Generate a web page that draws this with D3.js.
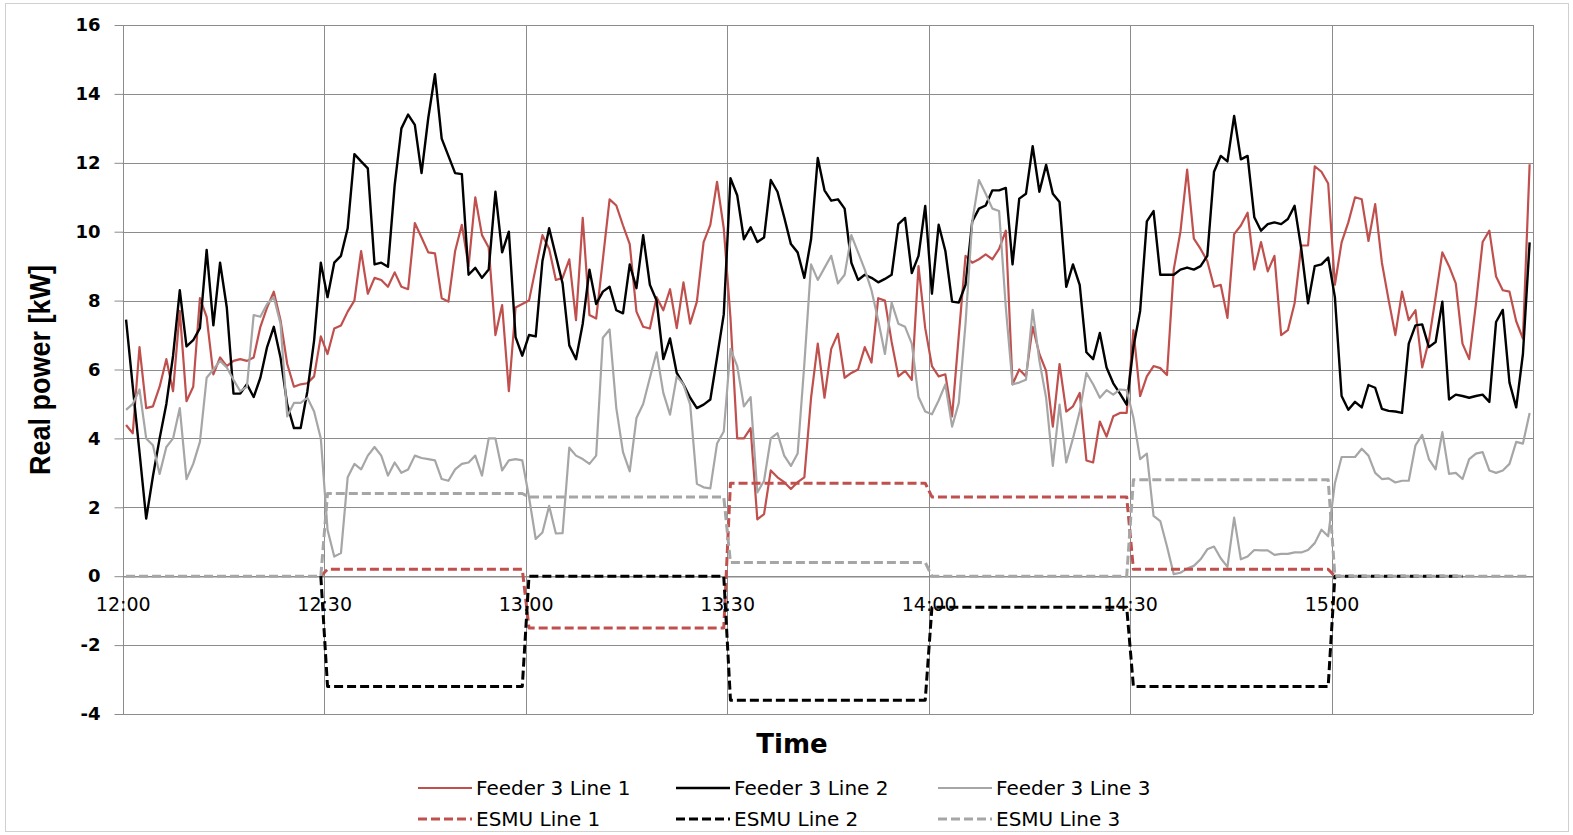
<!DOCTYPE html>
<html>
<head>
<meta charset="utf-8">
<script src="https://cdnjs.cloudflare.com/ajax/libs/d3/7.8.5/d3.min.js"></script>
<style>
  html, body { margin: 0; padding: 0; background: #ffffff; }
  svg { display: block; }
</style>
</head>
<body>
<svg id="chart" width="1573" height="835"></svg>
<script>
// ---------------- DATA ----------------
// one value per minute, 12:00 ... 15:29 (210 categories)
const timeLabels = ["12:00", "12:30", "13:00", "13:30", "14:00", "14:30", "15:00"];
const yTicks = [-4, -2, 0, 2, 4, 6, 8, 10, 12, 14, 16];

const feeder3Line1 = [
  4.39,4.15,6.65,4.88,4.93,5.5,6.3,5.37,7.7,5.08,5.5,8.07,7.53,5.86,6.35,6.1,6.25,6.3,6.25,6.35,7.24,7.8,8.26,7.43,6.16,5.5,5.57,5.6,5.8,6.96,
  6.45,7.19,7.28,7.68,8.0,9.44,8.2,8.66,8.6,8.4,8.82,8.4,8.33,10.25,9.83,9.4,9.37,8.07,7.97,9.44,10.2,9.0,11.0,9.9,9.54,7.0,7.87,5.37,7.8,7.9,
  8.0,8.95,9.9,9.5,8.6,8.66,9.2,7.43,10.4,7.58,7.48,9.2,10.94,10.76,10.18,9.64,7.68,7.24,7.19,8.1,7.72,8.33,7.2,8.53,7.33,7.97,9.7,10.2,11.45,10.1,
  7.5,4.0,4.0,4.3,1.65,1.8,3.07,2.87,2.73,2.53,2.73,2.87,5.18,6.75,5.18,6.6,7.04,5.76,5.9,6.0,6.65,6.2,8.07,8.0,6.8,5.8,5.96,5.7,9.0,7.2,
  6.1,5.8,5.86,4.64,7.0,9.3,9.1,9.2,9.34,9.2,9.5,10.03,5.57,6.0,5.8,7.24,6.45,5.96,4.34,6.16,4.78,4.93,5.32,3.36,3.3,4.49,4.05,4.64,4.74,4.74,
  7.14,5.23,5.8,6.1,6.04,5.84,8.9,10.0,11.8,9.8,9.5,9.15,8.4,8.46,7.5,9.93,10.18,10.55,8.9,9.7,8.85,9.3,7.0,7.14,7.92,9.6,9.6,11.9,11.74,11.4,
  8.46,9.69,10.27,11.0,10.94,9.73,10.8,9.1,8.02,7.0,8.26,7.43,7.72,6.06,6.84,8.1,9.4,9.0,8.5,6.75,6.3,7.9,9.7,10.03,8.7,8.3,8.26,7.4,6.9,11.96
];

const feeder3Line2 = [
  7.45,5.5,3.6,1.67,2.9,4.0,5.0,6.4,8.3,6.67,6.85,7.2,9.47,7.28,9.1,7.8,5.3,5.3,5.57,5.2,5.76,6.65,7.24,6.35,4.98,4.3,4.3,5.37,6.84,9.1,
  8.1,9.1,9.3,10.1,12.25,12.04,11.84,9.05,9.1,8.98,11.35,13.0,13.4,13.1,11.7,13.3,14.57,12.7,12.2,11.7,11.67,8.75,8.95,8.66,8.9,11.16,9.4,10.0,6.94,6.4,
  7.0,6.96,9.15,10.1,9.3,8.5,6.7,6.3,7.33,8.9,7.9,8.26,8.4,7.72,7.63,9.05,8.36,9.9,8.46,8.0,6.3,6.9,5.9,5.57,5.18,4.88,4.98,5.13,6.35,7.6,
  11.55,11.06,9.78,10.13,9.7,9.83,11.5,11.16,10.42,9.64,9.4,8.66,9.78,12.14,11.2,10.9,10.94,10.67,9.1,8.6,8.75,8.66,8.53,8.63,8.75,10.22,10.4,8.8,9.3,10.75,
  8.2,10.2,9.44,7.97,7.94,8.46,10.3,10.67,10.76,11.2,11.2,11.27,9.05,10.96,11.1,12.48,11.16,11.94,11.1,10.86,8.4,9.05,8.46,6.5,6.3,7.06,6.06,5.6,5.3,4.98,
  6.65,7.7,10.3,10.6,8.75,8.75,8.75,8.9,8.96,8.9,9.0,9.3,11.74,12.2,12.04,13.36,12.1,12.2,10.42,10.03,10.22,10.27,10.22,10.37,10.75,9.5,7.92,9.0,9.05,9.25,
  8.1,5.23,4.83,5.06,4.9,5.55,5.47,4.86,4.8,4.78,4.74,6.75,7.28,7.31,6.65,6.8,7.97,5.13,5.27,5.23,5.18,5.23,5.27,5.06,7.38,7.73,5.62,4.9,6.45,9.69
];

const feeder3Line3 = [
  4.83,5.0,5.42,4.0,3.8,2.97,3.75,4.0,4.88,2.82,3.26,3.9,5.76,6.0,6.25,6.06,5.7,5.37,5.5,7.58,7.53,7.9,8.1,7.33,4.64,5.03,5.03,5.18,4.78,4.0,
  1.35,0.57,0.67,2.87,3.26,3.1,3.5,3.75,3.5,2.92,3.3,3.0,3.1,3.5,3.43,3.4,3.36,2.82,2.77,3.1,3.26,3.3,3.5,2.92,4.0,4.0,3.07,3.36,3.4,3.36,
  2.3,1.08,1.27,2.04,1.24,1.25,3.73,3.5,3.4,3.26,3.5,6.92,7.16,4.88,3.6,3.04,4.59,5.0,5.76,6.5,5.32,4.69,5.8,5.57,4.98,2.68,2.58,2.55,3.85,4.2,
  6.6,6.1,4.93,5.2,2.43,2.77,4.0,4.15,3.5,3.2,3.56,6.16,9.05,8.6,8.95,9.3,8.5,8.75,9.9,9.4,8.9,8.3,7.43,6.45,7.94,7.33,7.24,6.75,5.2,4.78,
  4.7,5.1,5.57,4.34,5.03,7.33,10.3,11.5,11.1,10.67,10.6,7.8,5.57,5.62,5.7,7.73,6.25,5.18,3.2,4.98,3.3,4.0,4.78,5.9,5.57,5.18,5.4,5.27,5.42,5.4,
  4.6,3.4,3.56,1.75,1.6,0.86,0.06,0.1,0.22,0.3,0.49,0.78,0.86,0.52,0.27,1.7,0.49,0.57,0.76,0.75,0.75,0.62,0.65,0.65,0.69,0.69,0.76,0.96,1.35,1.16,
  2.7,3.46,3.46,3.46,3.7,3.5,3.0,2.82,2.84,2.72,2.77,2.77,3.8,4.1,3.4,3.1,4.18,2.97,3.0,2.82,3.4,3.56,3.6,3.07,3.0,3.07,3.26,3.9,3.85,4.74
];

const _ = null;
const esmuLine1 = [
  _,_,_,_,_,_,_,_,_,_,_,_,_,_,_,_,_,_,_,_,_,_,_,_,_,_,_,_,_,0,
  0.2,0.2,0.2,0.2,0.2,0.2,0.2,0.2,0.2,0.2,0.2,0.2,0.2,0.2,0.2,0.2,0.2,0.2,0.2,0.2,0.2,0.2,0.2,0.2,0.2,0.2,0.2,0.2,0.2,0.2,
  -1.5,-1.5,-1.5,-1.5,-1.5,-1.5,-1.5,-1.5,-1.5,-1.5,-1.5,-1.5,-1.5,-1.5,-1.5,-1.5,-1.5,-1.5,-1.5,-1.5,-1.5,-1.5,-1.5,-1.5,-1.5,-1.5,-1.5,-1.5,-1.5,-1.5,
  2.7,2.7,2.7,2.7,2.7,2.7,2.7,2.7,2.7,2.7,2.7,2.7,2.7,2.7,2.7,2.7,2.7,2.7,2.7,2.7,2.7,2.7,2.7,2.7,2.7,2.7,2.7,2.7,2.7,2.7,
  2.3,2.3,2.3,2.3,2.3,2.3,2.3,2.3,2.3,2.3,2.3,2.3,2.3,2.3,2.3,2.3,2.3,2.3,2.3,2.3,2.3,2.3,2.3,2.3,2.3,2.3,2.3,2.3,2.3,2.3,
  0.2,0.2,0.2,0.2,0.2,0.2,0.2,0.2,0.2,0.2,0.2,0.2,0.2,0.2,0.2,0.2,0.2,0.2,0.2,0.2,0.2,0.2,0.2,0.2,0.2,0.2,0.2,0.2,0.2,0.2,
  0,_,_,_,_,_,_,_,_,_,_,_,_,_,_,_,_,_,_,_,_,_,_,_,_,_,_,_,_,_
];
const esmuLine2 = [
  _,_,_,_,_,_,_,_,_,_,_,_,_,_,_,_,_,_,_,_,_,_,_,_,_,_,_,_,_,0,
  -3.2,-3.2,-3.2,-3.2,-3.2,-3.2,-3.2,-3.2,-3.2,-3.2,-3.2,-3.2,-3.2,-3.2,-3.2,-3.2,-3.2,-3.2,-3.2,-3.2,-3.2,-3.2,-3.2,-3.2,-3.2,-3.2,-3.2,-3.2,-3.2,-3.2,
  0,0,0,0,0,0,0,0,0,0,0,0,0,0,0,0,0,0,0,0,0,0,0,0,0,0,0,0,0,0,
  -3.6,-3.6,-3.6,-3.6,-3.6,-3.6,-3.6,-3.6,-3.6,-3.6,-3.6,-3.6,-3.6,-3.6,-3.6,-3.6,-3.6,-3.6,-3.6,-3.6,-3.6,-3.6,-3.6,-3.6,-3.6,-3.6,-3.6,-3.6,-3.6,-3.6,
  -0.9,-0.9,-0.9,-0.9,-0.9,-0.9,-0.9,-0.9,-0.9,-0.9,-0.9,-0.9,-0.9,-0.9,-0.9,-0.9,-0.9,-0.9,-0.9,-0.9,-0.9,-0.9,-0.9,-0.9,-0.9,-0.9,-0.9,-0.9,-0.9,-0.9,
  -3.2,-3.2,-3.2,-3.2,-3.2,-3.2,-3.2,-3.2,-3.2,-3.2,-3.2,-3.2,-3.2,-3.2,-3.2,-3.2,-3.2,-3.2,-3.2,-3.2,-3.2,-3.2,-3.2,-3.2,-3.2,-3.2,-3.2,-3.2,-3.2,-3.2,
  0,0,0,0,0,0,0,0,0,0,0,0,0,0,0,0,0,0,0,0,_,_,_,_,_,_,_,_,_,_
];
const esmuLine3 = [
  0,0,0,0,0,0,0,0,0,0,0,0,0,0,0,0,0,0,0,0,0,0,0,0,0,0,0,0,0,0,
  2.4,2.4,2.4,2.4,2.4,2.4,2.4,2.4,2.4,2.4,2.4,2.4,2.4,2.4,2.4,2.4,2.4,2.4,2.4,2.4,2.4,2.4,2.4,2.4,2.4,2.4,2.4,2.4,2.4,2.4,
  2.3,2.3,2.3,2.3,2.3,2.3,2.3,2.3,2.3,2.3,2.3,2.3,2.3,2.3,2.3,2.3,2.3,2.3,2.3,2.3,2.3,2.3,2.3,2.3,2.3,2.3,2.3,2.3,2.3,2.3,
  0.4,0.4,0.4,0.4,0.4,0.4,0.4,0.4,0.4,0.4,0.4,0.4,0.4,0.4,0.4,0.4,0.4,0.4,0.4,0.4,0.4,0.4,0.4,0.4,0.4,0.4,0.4,0.4,0.4,0.4,
  0,0,0,0,0,0,0,0,0,0,0,0,0,0,0,0,0,0,0,0,0,0,0,0,0,0,0,0,0,0,
  2.8,2.8,2.8,2.8,2.8,2.8,2.8,2.8,2.8,2.8,2.8,2.8,2.8,2.8,2.8,2.8,2.8,2.8,2.8,2.8,2.8,2.8,2.8,2.8,2.8,2.8,2.8,2.8,2.8,2.8,
  0,0,0,0,0,0,0,0,0,0,0,0,0,0,0,0,0,0,0,0,0,0,0,0,0,0,0,0,0,0
];

const seriesNames = ["Feeder 3 Line 1", "Feeder 3 Line 2", "Feeder 3 Line 3",
                     "ESMU Line 1", "ESMU Line 2", "ESMU Line 3"];
const seriesValues = [feeder3Line1, feeder3Line2, feeder3Line3, esmuLine1, esmuLine2, esmuLine3];

// ---------------- STYLE ----------------
const colors = ["#c0504d", "#000000", "#a6a6a6", "#c0504d", "#000000", "#a6a6a6"];
const widths = [2.2, 2.4, 2.2, 3, 3, 3];
const dashes = [null, null, null, "9,4", "9,4", "9,4"];

const W = 1573, H = 835;
const plot = { left: 122.7, right: 1533, top: 25, bottom: 714 };
const nCat = feeder3Line1.length;

const svg = d3.select("#chart");
svg.append("rect").attr("x", 0).attr("y", 0).attr("width", W).attr("height", H).attr("fill", "#fff");
svg.append("rect").attr("x", 5.5).attr("y", 3.5).attr("width", W - 10).attr("height", H - 7)
  .attr("fill", "none").attr("stroke", "#d0d0d0").attr("stroke-width", 1);

const x = d3.scaleLinear().domain([0, nCat]).range([plot.left, plot.right]);
const y = d3.scaleLinear().domain([-4, 16]).range([plot.bottom, plot.top]);

const gridColor = "#8c8c8c";
// horizontal gridlines
svg.append("g").selectAll("line").data(yTicks).join("line")
  .attr("x1", plot.left).attr("x2", plot.right)
  .attr("y1", d => Math.round(y(d)) + 0.5).attr("y2", d => Math.round(y(d)) + 0.5)
  .attr("stroke", gridColor).attr("stroke-width", 1);
// vertical gridlines every 30 categories
const vTicks = d3.range(0, nCat + 1, 30);
svg.append("g").selectAll("line").data(vTicks).join("line")
  .attr("x1", d => Math.round(x(d)) + 0.5).attr("x2", d => Math.round(x(d)) + 0.5)
  .attr("y1", plot.top).attr("y2", plot.bottom)
  .attr("stroke", gridColor).attr("stroke-width", 1);

// y axis ticks and labels
const yAxis = d3.axisLeft(y).tickValues(yTicks).tickSize(9).tickPadding(14).tickFormat(d => String(d));
const gy = svg.append("g").attr("transform", `translate(${Math.round(plot.left) + 0.5},0)`).call(yAxis);
gy.select(".domain").remove();
gy.selectAll(".tick line").attr("stroke", gridColor);
gy.selectAll(".tick text").attr("font-family", "'DejaVu Sans', sans-serif")
  .attr("font-weight", "bold").attr("font-size", 18).attr("fill", "#000");

// x axis at y = 0
const xAxis = d3.axisBottom(x).tickValues(vTicks.slice(0, timeLabels.length))
  .tickFormat((d, i) => timeLabels[i]).tickSize(0).tickPadding(21);
const gx = svg.append("g").attr("transform", `translate(0,${Math.round(y(0)) + 0.5})`).call(xAxis);
gx.select(".domain").attr("stroke", gridColor);
gx.selectAll(".tick text").attr("font-family", "'DejaVu Sans', sans-serif")
  .attr("font-size", 19).attr("fill", "#000");

// series lines
const line = d3.line()
  .defined(d => d != null)
  .x((d, i) => x(i + 0.5))
  .y(d => y(d));

const order = [0, 1, 2, 3, 4, 5];
svg.append("g").selectAll("path").data(order).join("path")
  .attr("d", k => line(seriesValues[k]))
  .attr("fill", "none")
  .attr("stroke", k => colors[k])
  .attr("stroke-width", k => widths[k])
  .attr("stroke-dasharray", k => dashes[k])
  .attr("stroke-linejoin", "round")
  .attr("stroke-linecap", "butt");

// axis titles
svg.append("text").attr("x", 792).attr("y", 753).attr("text-anchor", "middle")
  .attr("font-family", "'DejaVu Sans', sans-serif").attr("font-weight", "bold").attr("font-size", 26)
  .attr("fill", "#000").text("Time");
svg.append("text").attr("transform", "translate(50,370) rotate(-90)").attr("text-anchor", "middle")
  .attr("font-family", "'Liberation Sans Narrow', 'Liberation Sans', sans-serif")
  .attr("font-weight", "bold").attr("font-size", 30)
  .attr("textLength", 210).attr("lengthAdjust", "spacingAndGlyphs")
  .attr("fill", "#000").text("Real power [kW]");

// legend
const colX = [418, 676, 938];
const rowY = [788, 819];
const lg = svg.append("g").selectAll("g").data(order).join("g")
  .attr("transform", k => `translate(${colX[k % 3]},${rowY[Math.floor(k / 3)]})`);
lg.append("line").attr("x1", 0).attr("x2", 54).attr("y1", 0).attr("y2", 0)
  .attr("stroke", k => colors[k]).attr("stroke-width", k => widths[k])
  .attr("stroke-dasharray", k => dashes[k]);
lg.append("text").attr("x", 58).attr("y", 0).attr("dy", "0.35em")
  .attr("font-family", "'DejaVu Sans', sans-serif").attr("font-size", 20).attr("fill", "#000")
  .text(k => seriesNames[k]);
</script>
</body>
</html>
